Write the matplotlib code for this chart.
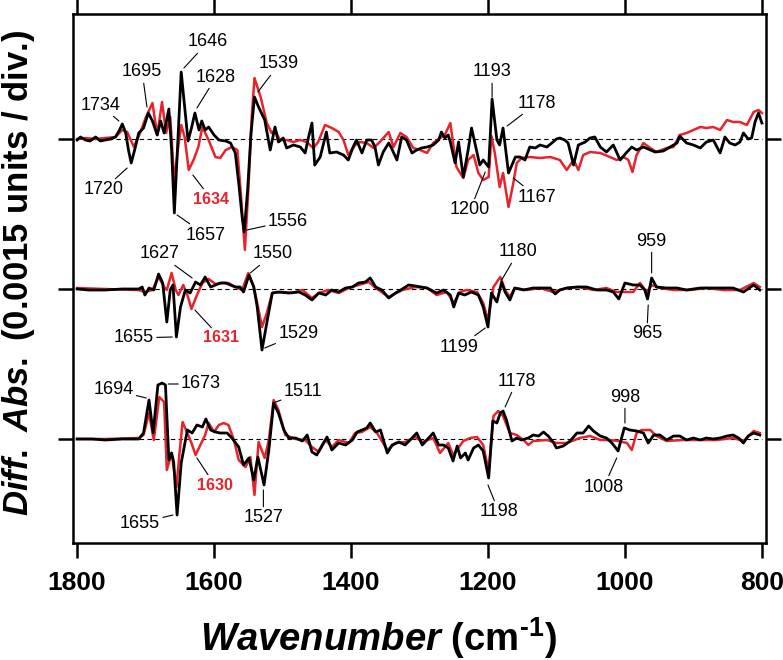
import matplotlib
matplotlib.use("Agg")
import matplotlib.pyplot as plt

plt.rcParams['font.family'] = ['Liberation Sans', 'DejaVu Sans']
plt.rcParams['mathtext.fontset'] = 'custom'
plt.rcParams['mathtext.rm'] = 'Liberation Sans:bold'
plt.rcParams['mathtext.bf'] = 'Liberation Sans:bold'
plt.rcParams['mathtext.it'] = 'Liberation Sans:italic:bold'

# ---- data (difference absorbance, 1e-3 units, relative to each baseline) ----
top_wn_k = [1800, 1795, 1788, 1781, 1773, 1766, 1759, 1751, 1744, 1738, 1734, 1729, 1725, 1721, 1716, 1710,
            1703, 1696, 1690, 1683, 1678, 1673, 1666, 1662, 1658, 1654, 1648, 1643, 1638, 1633, 1628, 1622,
            1618, 1613, 1608, 1600, 1593, 1583, 1576, 1569, 1564, 1559, 1556, 1551, 1546, 1541, 1535,
            1526, 1518, 1511, 1506, 1499, 1494, 1484, 1474, 1467, 1462, 1457, 1453, 1445, 1436, 1431, 1421,
            1411, 1404, 1397, 1392, 1384, 1377, 1370, 1365, 1360, 1353, 1345, 1341, 1333, 1326, 1319, 1311,
            1304, 1297, 1289, 1280, 1272, 1268, 1263, 1258,
            1255, 1248, 1243, 1236, 1229, 1224, 1216, 1212, 1207, 1199, 1194, 1187, 1183, 1178, 1170, 1160,
            1153, 1146, 1139, 1131, 1124, 1114, 1105, 1100, 1095, 1088, 1083, 1075, 1068, 1058, 1051, 1044,
            1036, 1027, 1017, 1007, 997, 990, 983, 973, 963, 956, 944, 934, 924, 920, 910, 900, 890, 881,
            871, 861, 854, 847, 839, 832, 827, 820, 815, 810, 805, 800]
top_k = [-0.01, 0.02, -0.01, -0.02, 0.02, -0.02, -0.01, 0.0, 0.02, 0.09, 0.15, 0.06, -0.11, -0.24, -0.11, 0.06,
         0.11, 0.26, 0.18, 0.04, 0.18, 0.06, 0.30, -0.11, -0.74, -0.18, 0.67, 0.32, -0.02, 0.11, 0.26, 0.09,
         0.18, 0.09, 0.12, 0.04, -0.01, -0.02, -0.04, -0.14, -0.44, -0.78, -0.93, -0.51, 0.06, 0.42, 0.32,
         0.19, -0.11, 0.12, -0.03, 0.01, -0.09, -0.06, -0.08, -0.14, 0.02, 0.16, -0.26, -0.18, 0.07, -0.14, -0.13,
         -0.16, -0.21, -0.08, -0.01, -0.14, -0.01, -0.01, -0.08, -0.26, -0.13, -0.04, -0.09, -0.21, 0.02, -0.01, -0.14,
         -0.11, -0.09, -0.08, -0.06, -0.01, 0.07, 0.01, 0.04,
         -0.03, -0.24, -0.03, -0.38, -0.11, 0.11, -0.14, -0.26, -0.21, -0.28, 0.40, -0.01, -0.06, 0.11, -0.34, -0.18,
         -0.18, -0.21, -0.08, -0.09, -0.06, -0.08, -0.03, 0.0, 0.01, -0.01, -0.04, -0.26, -0.06, -0.03, 0.01, 0.02,
         -0.08, -0.13, -0.06, -0.21, -0.13, -0.08, -0.11, -0.08, -0.11, -0.13, -0.12, -0.08, -0.04, 0.03, -0.04, -0.06,
         -0.09, -0.03, -0.01, -0.14, 0.02, -0.04, -0.06, -0.03, 0.06, 0.0, 0.01, 0.17, 0.26, 0.16]

top_wn_r = [1800, 1788, 1773, 1759, 1744, 1734, 1727, 1717, 1708, 1700, 1690, 1683, 1676, 1670, 1664, 1658,
            1653, 1648, 1643, 1637, 1630, 1623, 1617, 1608, 1598, 1591, 1583, 1574, 1566, 1561, 1555, 1550,
            1545, 1541, 1532,
            1523, 1516, 1511, 1504, 1494, 1484, 1474, 1465, 1455, 1448, 1438, 1428, 1418, 1411, 1404, 1394,
            1387, 1377, 1367, 1358, 1345, 1338, 1328, 1319, 1309, 1299, 1289, 1280, 1270, 1263,
            1255, 1246, 1236, 1229, 1221, 1214, 1207, 1199, 1195, 1190, 1183, 1178, 1170, 1163, 1158, 1151,
            1139, 1124, 1109, 1095, 1085, 1075, 1068, 1061, 1051, 1036, 1022, 1012, 1002, 995, 989, 983,
            973, 963, 954, 939, 929, 920, 910, 900, 890, 881, 871, 861, 851, 842, 832, 822, 812, 805, 800]
top_r = [0.0, 0.01, 0.0, 0.01, 0.02, 0.09, 0.07, -0.08, 0.06, 0.21, 0.36, 0.04, 0.37, 0.06, 0.22, -0.44,
         -0.11, 0.14, 0.02, -0.31, -0.21, -0.08, 0.12, -0.01, -0.18, -0.19, -0.11, -0.08, -0.11, -0.54, -1.11, -0.51,
         0.22, 0.61, 0.42,
         0.16, 0.06, 0.09, -0.01, -0.01, -0.03, -0.01, -0.03, -0.09, -0.03, 0.14, 0.11, 0.07, -0.01, -0.16, -0.06,
         -0.03, -0.04, -0.09, -0.03, 0.07, -0.08, 0.06, 0.02, -0.09, -0.11, -0.14, -0.04, 0.01, 0.04,
         0.16, -0.28, -0.39, -0.21, -0.16, -0.34, -0.41, -0.38, 0.03, -0.14, -0.48, -0.34, -0.68, -0.44, -0.24, -0.19,
         -0.18, -0.19, -0.18, -0.21, -0.31, -0.21, -0.31, -0.16, -0.13, -0.14, -0.18, -0.21, -0.18, -0.21, -0.33, -0.16,
         -0.04, -0.09, -0.13, -0.09, -0.08, 0.04, 0.06, 0.09, 0.12, 0.11, 0.12, 0.09, 0.19, 0.17, 0.17, 0.14, 0.27, 0.29, 0.26]

mid_wn_k = [1800, 1783, 1759, 1734, 1710, 1705, 1701, 1695, 1688, 1681, 1675, 1669, 1664, 1660, 1655, 1649,
            1642, 1635, 1627, 1620, 1613, 1605, 1598, 1591, 1583, 1576, 1569, 1562, 1557, 1549, 1542, 1537,
            1530, 1523, 1515, 1506, 1491, 1476, 1467, 1457, 1447, 1437, 1428, 1418, 1408, 1398, 1389, 1379,
            1372, 1364, 1355, 1345, 1335, 1325, 1316, 1306,
            1289, 1275, 1265, 1255, 1250, 1243, 1234, 1224, 1214, 1207, 1200, 1195, 1187, 1180, 1175, 1168,
            1161, 1148, 1134, 1119, 1109, 1102, 1095, 1085, 1070, 1056, 1041, 1027, 1017, 1009, 1000, 988,
            978, 971, 967, 961, 954, 939, 924, 910, 890, 866, 842, 827, 812, 803]
mid_k = [0.0, -0.01, -0.01, 0.0, 0.0, 0.02, -0.06, 0.01, -0.01, 0.15, 0.06, -0.33, -0.01, 0.04, -0.48, -0.18,
         -0.01, -0.04, 0.07, 0.04, 0.12, 0.02, 0.04, 0.06, 0.06, 0.04, 0.02, 0.02, -0.03, 0.14, 0.02, -0.18,
         -0.61, -0.34, -0.04, -0.03, -0.04, -0.03, -0.06, -0.11, -0.04, -0.06, -0.01, -0.03, 0.01, 0.02, 0.06, 0.07,
         0.11, 0.02, -0.01, -0.09, -0.04, 0.0, 0.04, 0.03,
         0.01, -0.04, -0.01, -0.06, -0.18, -0.04, -0.06, -0.03, -0.06, -0.18, -0.38, -0.04, -0.13, 0.07, -0.03, -0.11,
         0.01, -0.01, 0.01, 0.01, 0.01, -0.05, -0.01, 0.01, 0.02, 0.02, -0.01, -0.01, -0.03, -0.10, 0.06, 0.04,
         0.04, -0.01, -0.10, 0.11, 0.02, 0.01, 0.01, -0.01, 0.01, 0.01, 0.01, -0.03, 0.04, -0.01]

mid_wn_r = [1800, 1759, 1710, 1701, 1690, 1681, 1673, 1669, 1662, 1656, 1652, 1645, 1639, 1633, 1625, 1617,
            1608, 1598, 1588, 1579, 1569, 1559, 1550, 1542, 1537, 1530, 1523, 1515, 1501, 1486, 1471, 1457,
            1447, 1433, 1418, 1403, 1389, 1374, 1364, 1345, 1325, 1306,
            1289, 1275, 1260, 1250, 1241, 1231, 1216, 1207, 1200, 1192, 1182, 1175, 1168, 1161, 1143, 1124,
            1105, 1085, 1066, 1046, 1027, 1012, 997, 988, 978, 968, 961, 949, 929, 905, 881, 856, 832, 812, 803]
mid_r = [0.01, 0.0, -0.01, -0.03, -0.01, 0.12, 0.02, -0.01, 0.16, -0.01, -0.06, 0.04, -0.06, -0.2, -0.06, 0.06,
         0.1, 0.05, 0.06, 0.06, 0.02, -0.01, 0.16, 0.02, -0.14, -0.38, -0.24, -0.04, -0.03, -0.04, -0.01, -0.09,
         -0.04, -0.01, -0.04, 0.01, 0.04, 0.07, 0.01, -0.08, -0.01, 0.02,
         0.01, -0.06, -0.03, -0.14, -0.03, -0.01, -0.03, -0.14, -0.31, 0.02, 0.12, -0.01, -0.08, 0.01, -0.01, 0.01,
         -0.03, 0.01, 0.02, -0.01, 0.01, -0.03, -0.03, -0.03, 0.06, -0.03, 0.04, 0.01, -0.01, -0.01, 0.01, -0.01,
         -0.01, 0.06, 0.02]

bot_wn_k = [1800, 1778, 1759, 1734, 1710, 1703, 1695, 1689, 1682, 1676, 1671, 1666, 1662, 1659, 1654, 1648,
            1639, 1632, 1625, 1617, 1612, 1605, 1598, 1591, 1581, 1574, 1564, 1557, 1549, 1542, 1536, 1527,
            1520, 1513, 1506, 1498, 1491, 1481, 1471, 1464, 1457, 1450, 1442, 1435, 1428, 1418, 1408, 1398,
            1391, 1384, 1377, 1372, 1364, 1357, 1347, 1340, 1330, 1321, 1311, 1304, 1296,
            1280, 1272, 1265, 1258, 1251, 1245, 1240, 1233, 1229, 1221, 1214, 1207, 1199, 1193, 1187, 1182,
            1178, 1173, 1165, 1158, 1151, 1141, 1134, 1126, 1119, 1112, 1104, 1100, 1090, 1080, 1070, 1061,
            1053, 1046, 1036, 1027, 1019, 1010, 1001, 993, 983, 973, 966, 958, 949, 939, 929, 920, 910, 900,
            890, 881, 871, 861, 851, 842, 834, 827, 820, 812, 803]
bot_k = [0.0, 0.0, -0.01, 0.0, 0.0, 0.06, 0.39, 0.06, 0.54, 0.56, 0.54, -0.21, -0.14, -0.23, -0.76, -0.24,
         0.09, 0.06, 0.14, 0.12, 0.2, 0.09, 0.07, 0.06, 0.06, 0.01, -0.08, -0.26, -0.19, -0.41, -0.18, -0.46,
         -0.11, 0.36, 0.26, 0.09, 0.01, 0.01, -0.02, 0.04, -0.13, -0.16, -0.06, 0.02, -0.11, -0.04, -0.06, -0.01,
         0.07, 0.09, 0.11, 0.16, 0.07, 0.09, -0.14, -0.06, -0.03, -0.06, 0.01, 0.06, -0.06,
         0.06, -0.06, -0.06, -0.09, -0.22, -0.07, -0.19, -0.14, -0.21, -0.09, -0.06, -0.12, -0.39, 0.18, 0.16, 0.26,
         0.28, 0.19, -0.02, 0.01, -0.01, 0.01, 0.04, 0.03, 0.07, 0.03, -0.04, -0.09, -0.07, -0.02, 0.06, 0.06,
         0.13, 0.08, 0.03, 0.01, -0.04, -0.12, 0.11, 0.09, 0.08, 0.06, -0.04, 0.04, 0.04, -0.01, 0.03, 0.03, -0.01, 0.01,
         -0.01, 0.01, 0.0, 0.01, 0.03, 0.04, 0.01, -0.04, 0.03, 0.06, 0.04]

bot_wn_r = [1800, 1759, 1710, 1703, 1695, 1688, 1680, 1673, 1669, 1662, 1655, 1651, 1646, 1639, 1633, 1627,
            1620, 1613, 1608, 1600, 1593, 1586, 1579, 1571, 1564, 1554, 1547, 1541, 1535, 1526, 1520, 1513,
            1506, 1496, 1481, 1467, 1457, 1447, 1437, 1428, 1418, 1403, 1394, 1384, 1372, 1362, 1347, 1335,
            1321, 1306, 1296,
            1280, 1270, 1258, 1251, 1236, 1226, 1216, 1207, 1199, 1192, 1185, 1178, 1168, 1158, 1148, 1141,
            1134, 1114, 1100, 1085, 1066, 1051, 1036, 1022, 1010, 997, 990, 983, 976, 963, 954, 939, 915, 890,
            866, 842, 827, 812, 803]
bot_r = [0.0, 0.0, 0.01, 0.04, 0.26, -0.01, 0.42, 0.37, -0.31, -0.14, -0.48, -0.18, 0.17, 0.06, -0.04, -0.16,
         -0.06, 0.04, 0.16, 0.07, 0.14, 0.16, 0.14, -0.01, -0.21, -0.28, -0.18, -0.56, -0.03, -0.19, -0.01, 0.39,
         0.29, 0.04, 0.0, -0.01, -0.08, -0.13, -0.01, -0.08, -0.01, -0.04, 0.06, 0.07, 0.12, 0.06, -0.11, -0.04,
         -0.03, 0.02, -0.03,
         0.01, -0.14, -0.04, -0.16, -0.02, 0.01, 0.02, -0.06, -0.32, 0.23, 0.28, 0.23, 0.06, 0.04, -0.01, -0.06,
         -0.02, -0.01, -0.04, -0.04, 0.01, 0.03, -0.01, -0.01, -0.02, -0.04, -0.11, 0.06, 0.09, 0.09, 0.03, -0.02,
         -0.01, -0.01, -0.01, 0.01, -0.02, 0.08, 0.06]

offsets = [0.0, -1.5, -3.0]

# peak labels: text, label position (wn, y), leader end (wn, y); red ones are bold red
ann_text = ['1734', '1695', '1646', '1628', '1539', '1720', '1634', '1657', '1556',
            '1193', '1178', '1200', '1167',
            '1627', '1550', '1655', '1631', '1529', '1180', '959', '965', '1199',
            '1694', '1673', '1511', '1630', '1655', '1527', '1178', '998', '1198', '1008']
ann_red = ['1634', '1631', '1630']
ann_pos = [(1766, 0.34), (1705, 0.67), (1609, 0.97), (1597, 0.62), (1505, 0.75), (1762, -0.51),
           (1604, -0.60), (1612, -0.96), (1492, -0.82), (1194, 0.67), (1128, 0.36), (1226, -0.71),
           (1128, -0.58),
           (1680, -1.15), (1514, -1.15), (1717, -1.99), (1590, -1.99), (1477, -1.95), (1156, -1.13),
           (961, -1.02), (968, -1.95), (1242, -2.08),
           (1747, -2.51), (1619, -2.45), (1470, -2.53), (1599, -3.46), (1708, -3.84), (1528, -3.79),
           (1158, -2.42), (1000, -2.58), (1184, -3.73), (1031, -3.48)]
ann_end = [(1739, 0.18), (1698, 0.32), (1644, 0.71), (1625, 0.31), (1536, 0.47), (1727, -0.29),
           (1631, -0.36), (1654, -0.76), (1552, -0.91), (1194, 0.42), (1172, 0.13), (1204, -0.33),
           (1163, -0.39),
           (1632, -1.39), (1547, -1.34), (1661, -1.98), (1628, -1.71), (1526, -2.09), (1180, -1.41),
           (961, -1.34), (966, -1.66), (1204, -1.89),
           (1699, -2.59), (1667, -2.45), (1514, -2.64), (1625, -3.19), (1660, -3.76), (1528, -3.51),
           (1175, -2.68), (1000, -2.84), (1200, -3.46), (1012, -3.19)]

RED = '#e8232b'

fig = plt.figure(figsize=(7.83, 6.6), dpi=100)
ax = fig.add_axes([73 / 783, 117 / 660, 693 / 783, 529 / 660])

traces = [(top_wn_k, top_k, top_wn_r, top_r),
          (mid_wn_k, mid_k, mid_wn_r, mid_r),
          (bot_wn_k, bot_k, bot_wn_r, bot_r)]

for off, (wk, yk, wr, yr) in zip(offsets, traces):
    ax.hlines(off, 1800, 800, colors='black', linestyles=(0, (4, 3)), lw=0.8, zorder=1)
    ax.plot(wr, [v + off for v in yr], color=RED, lw=1.8, zorder=2)
    ax.plot(wk, [v + off for v in yk], color='black', lw=2.0, zorder=3)

for txt, pos, end in zip(ann_text, ann_pos, ann_end):
    red = txt in ann_red
    ax.annotate(txt, xy=end, xytext=pos, ha='center', va='center',
                fontsize=11.5 if red else 13, fontweight='bold' if red else 'normal',
                color=RED if red else 'black',
                arrowprops=dict(arrowstyle='-', color='black', lw=0.8, shrinkA=0, shrinkB=0))

ax.set_xlim(1806, 794)
ax.set_ylim(-4.04, 1.25)
ax.set_xticks([1800, 1600, 1400, 1200, 1000, 800])
ax.set_yticks(offsets)
ax.set_yticklabels([])
ax.tick_params(axis='both', direction='out', length=11, width=1.8,
               top=True, right=True, labelleft=False, labeltop=False, labelright=False)
ax.tick_params(axis='x', labelsize=19, pad=9)
for lab in ax.get_xticklabels():
    lab.set_fontweight('bold')
for sp in ax.spines.values():
    sp.set_linewidth(1.8)

fig.text(378 / 783, 1 - 638 / 660, r'$\mathit{Wavenumber}$ (cm$^{\text{-1}}$)',
         ha='center', va='center', fontsize=27.5, fontweight='bold')
fig.text(19 / 783, 1 - 273 / 660, r'$\mathit{Diff.\ Abs.}$ (0.0015 units / div.)',
         ha='center', va='center', rotation=90, fontsize=25, fontweight='bold')

fig.savefig('out.png', dpi=100)
